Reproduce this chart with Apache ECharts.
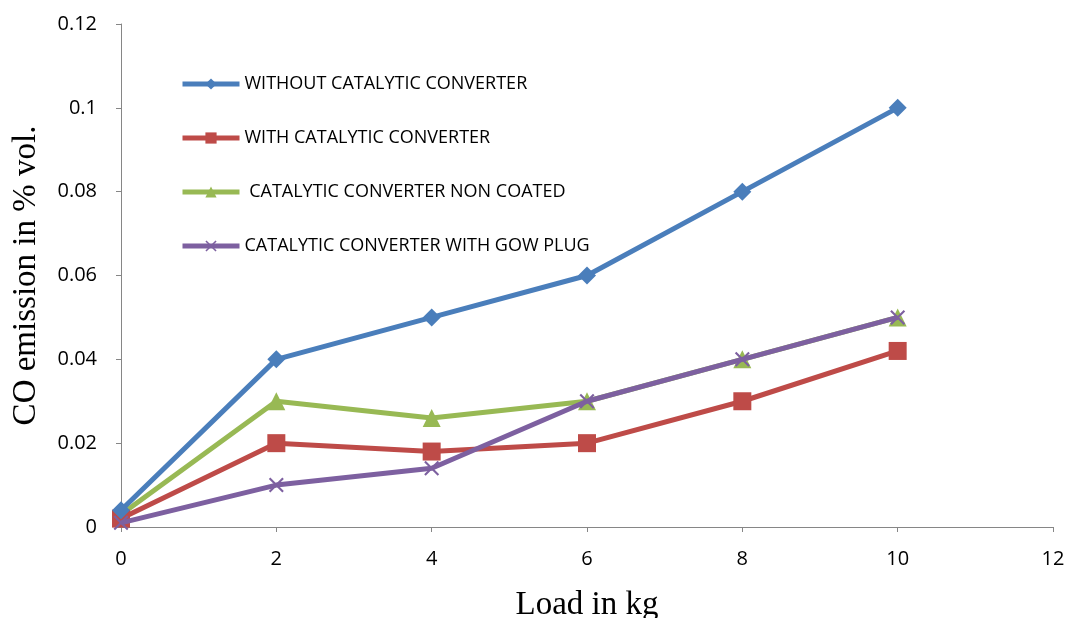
<!DOCTYPE html>
<html>
<head>
<meta charset="utf-8">
<script src="https://cdn.jsdelivr.net/npm/echarts@6/dist/echarts.min.js"></script>
<style>
  html, body { margin: 0; padding: 0; background: #fff; }
  #chart { width: 1069px; height: 618px; }
</style>
</head>
<body>
<div id="chart"></div>
<script>
// Engine load (kg) and CO emission (% vol.) for each setup
const loads = [0, 2, 4, 6, 8, 10];
const withoutConverter = [0.004, 0.04, 0.05, 0.06, 0.08, 0.1];
const withConverter = [0.002, 0.02, 0.018, 0.02, 0.03, 0.042];
const nonCoated = [0.003, 0.03, 0.026, 0.03, 0.04, 0.05];
const withGlowPlug = [0.001, 0.01, 0.014, 0.03, 0.04, 0.05];

const seriesNames = [
  'WITHOUT CATALYTIC CONVERTER',
  'WITH CATALYTIC CONVERTER',
  ' CATALYTIC CONVERTER NON COATED',
  'CATALYTIC CONVERTER WITH GOW PLUG'
];

const xTitle = 'Load in kg';
const yTitle = 'CO emission in % vol.';

const pairs = (ys) => loads.map((x, i) => [x, ys[i]]);

// X-shaped marker outline
const crossPath = 'path://M2,0 L10,8 L18,0 L20,2 L12,10 L20,18 L18,20 L10,12 L2,20 L0,18 L8,10 L0,2 Z';

const chart = echarts.init(document.getElementById('chart'), null, { renderer: 'canvas' });

const labelFont = '"Open Sans", "Liberation Sans", sans-serif';
const titleFont = '"Liberation Serif", "DejaVu Serif", serif';

chart.setOption({
  animation: false,
  backgroundColor: '#ffffff',
  grid: { left: 121, right: 16, top: 24, bottom: 91, containLabel: false, outerBoundsMode: 'none' },
  legend: {
    orient: 'vertical',
    left: 175,
    top: 70,
    itemWidth: 57,
    itemHeight: 14,
    itemGap: 36,
    lineStyle: { width: 5 },
    textStyle: { fontFamily: labelFont, fontSize: 18, color: '#000' },
    data: seriesNames
  },
  xAxis: {
    type: 'value',
    min: 0, max: 12, interval: 2,
    name: xTitle,
    nameLocation: 'middle',
    nameGap: 62,
    nameTextStyle: { fontFamily: titleFont, fontSize: 33, color: '#000' },
    axisLine: { show: true, lineStyle: { color: '#868686', width: 1 } },
    axisTick: { show: true, inside: false, length: 5, lineStyle: { color: '#868686' } },
    axisLabel: { fontFamily: labelFont, fontSize: 20, color: '#000', margin: 22 },
    splitLine: { show: false }
  },
  yAxis: {
    type: 'value',
    min: 0, max: 0.12, interval: 0.02,
    name: yTitle,
    nameLocation: 'middle',
    nameGap: 78,
    nameRotate: 90,
    nameTextStyle: { fontFamily: titleFont, fontSize: 33, color: '#000' },
    axisLine: { show: true, lineStyle: { color: '#868686', width: 1 } },
    axisTick: { show: true, inside: false, length: 5, lineStyle: { color: '#868686' } },
    axisLabel: { fontFamily: labelFont, fontSize: 20, color: '#000', margin: 24 },
    splitLine: { show: false }
  },
  series: [
    {
      name: seriesNames[0], type: 'line', data: pairs(withoutConverter),
      color: '#4a7ebb', lineStyle: { width: 5 },
      symbol: 'diamond', symbolSize: 18, clip: false, z: 4
    },
    {
      name: seriesNames[1], type: 'line', data: pairs(withConverter),
      color: '#be4b48', lineStyle: { width: 5 },
      symbol: 'rect', symbolSize: 18, clip: false, z: 3
    },
    {
      name: seriesNames[2], type: 'line', data: pairs(nonCoated),
      color: '#98b954', lineStyle: { width: 5 },
      symbol: 'triangle', symbolSize: 18, clip: false, z: 2
    },
    {
      name: seriesNames[3], type: 'line', data: pairs(withGlowPlug),
      color: '#7d60a0', lineStyle: { width: 5 },
      symbol: crossPath, symbolSize: 15, clip: false, z: 5
    }
  ]
});
</script>
</body>
</html>
